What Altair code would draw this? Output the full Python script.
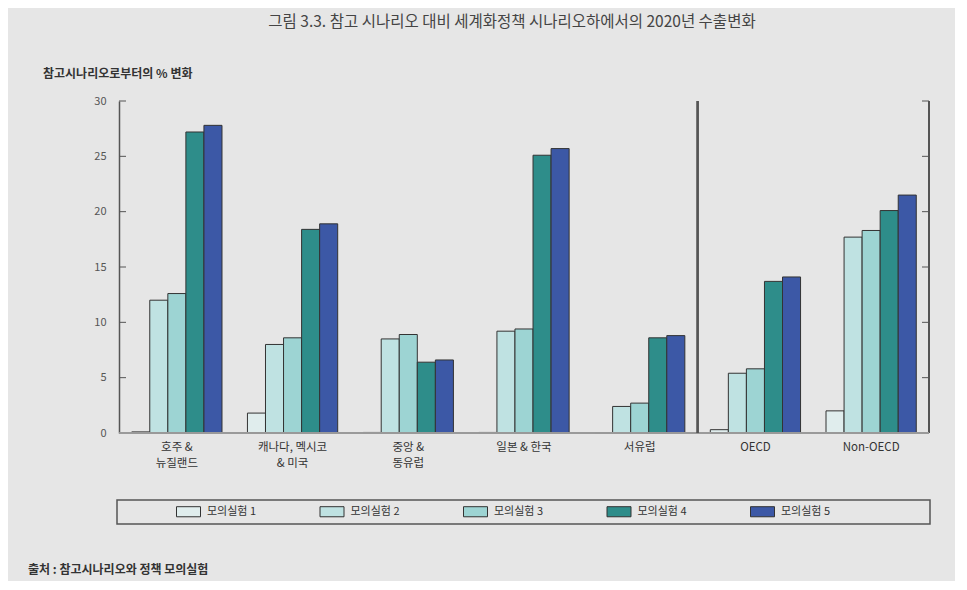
import altair as alt
import pandas as pd

categories = ["호주 &\n뉴질랜드", "캐나다, 멕시코\n& 미국", "중앙 &\n동유럽", "일본 & 한국", "서유럽", "OECD", "Non-OECD"]
series = ["모의실험 1", "모의실험 2", "모의실험 3", "모의실험 4", "모의실험 5"]
sim1 = [0.1, 1.8, 0.05, 0.05, 0.0, 0.3, 2.0]
sim2 = [12.0, 8.0, 8.5, 9.2, 2.4, 5.4, 17.7]
sim3 = [12.6, 8.6, 8.9, 9.4, 2.7, 5.8, 18.3]
sim4 = [27.2, 18.4, 6.4, 25.1, 8.6, 13.7, 20.1]
sim5 = [27.8, 18.9, 6.6, 25.7, 8.8, 14.1, 21.5]
colors = ["#e0eded", "#bfe2e2", "#9dd4d3", "#2e8d8a", "#3c58a6"]
y_ticks = [0, 5, 10, 15, 20, 25, 30]

title_text = "그림 3.3.  참고 시나리오 대비 세계화정책 시나리오하에서의 2020년 수출변화"
y_title_text = "참고시나리오로부터의 % 변화"
source_text = "출처 : 참고시나리오와 정책 모의실험"

rows = []
for s, vals in zip(series, [sim1, sim2, sim3, sim4, sim5]):
    for c, v in zip(categories, vals):
        rows.append({"category": c, "series": s, "value": v})
df = pd.DataFrame(rows)
ticks_df = pd.DataFrame({"tick": y_ticks})
cat_df = pd.DataFrame({
    "category": categories,
    "line1": [c.split("\n")[0] for c in categories],
    "line2": [c.split("\n")[1] if "\n" in c else "" for c in categories],
})

W, H = 810, 332
FONT = "Noto Sans CJK KR"

x_scale = alt.Scale(domain=categories, paddingInner=0.22, paddingOuter=0.11)
y_scale = alt.Scale(domain=[0, 30], nice=False)

bars = alt.Chart(df).mark_bar(stroke="#333333", strokeWidth=1).encode(
    x=alt.X("category:N", sort=categories, scale=x_scale, axis=None),
    xOffset=alt.XOffset("series:N", sort=series, scale=alt.Scale(paddingInner=0, paddingOuter=0)),
    y=alt.Y("value:Q", scale=y_scale,
            axis=alt.Axis(title=None, ticks=False, grid=False, values=y_ticks,
                          domainColor="#555555", domainWidth=1.5, labelColor="#555555",
                          labelFontSize=11, labelFont=FONT, labelPadding=13)),
    color=alt.Color("series:N", sort=series,
                    scale=alt.Scale(domain=series, range=colors),
                    legend=alt.Legend(title=None, orient="none", legendX=57, legendY=398,
                                      direction="horizontal", columns=5, columnPadding=60.5,
                                      symbolType="M-1,-0.42H1V0.42H-1Z", symbolSize=576,
                                      symbolStrokeColor="#333333", symbolStrokeWidth=1,
                                      symbolOpacity=1, labelFont=FONT, labelFontSize=11,
                                      labelColor="#333333", labelOffset=6, padding=0)),
)

left_ticks = alt.Chart(ticks_df).mark_rule(color="#555555", strokeWidth=1).encode(
    y=alt.Y("tick:Q", scale=y_scale), x=alt.value(0), x2=alt.value(7))
right_ticks = alt.Chart(ticks_df).mark_rule(color="#555555", strokeWidth=1).encode(
    y=alt.Y("tick:Q", scale=y_scale), x=alt.value(W - 7), x2=alt.value(W))
right_axis = alt.Chart(ticks_df).mark_rule(color="#555555", strokeWidth=1.5).encode(
    x=alt.value(W), y=alt.value(0), y2=alt.value(H))
bottom_line = alt.Chart(ticks_df).mark_rule(color="#9a9a9a", strokeWidth=1.5).encode(
    x=alt.value(0), x2=alt.value(W), y=alt.value(H))
divider = alt.Chart(ticks_df).mark_rule(color="#555555", strokeWidth=1.5).encode(
    x=alt.value(W * 5 / 7), y=alt.value(0), y2=alt.value(H))

cat_line1 = alt.Chart(cat_df).mark_text(
    font=FONT, fontSize=11.5, color="#333333", baseline="middle"
).encode(x=alt.X("category:N", sort=categories, scale=x_scale, axis=None),
         y=alt.value(H + 15), text="line1:N")
cat_line2 = alt.Chart(cat_df).mark_text(
    font=FONT, fontSize=11.5, color="#333333", baseline="middle"
).encode(x=alt.X("category:N", sort=categories, scale=x_scale, axis=None),
         y=alt.value(H + 31), text="line2:N")

one = pd.DataFrame({"a": [0]})
title = alt.Chart(one).mark_text(font=FONT, fontSize=15.5, color="#444444", align="center").encode(
    x=alt.value(393), y=alt.value(-79), text=alt.value(title_text))
y_title = alt.Chart(one).mark_text(font=FONT, fontSize=12, fontWeight="bold", color="#333333", align="left").encode(
    x=alt.value(-76), y=alt.value(-27), text=alt.value(y_title_text))
source = alt.Chart(one).mark_text(font=FONT, fontSize=12, fontWeight="bold", color="#333333", align="left").encode(
    x=alt.value(-91), y=alt.value(469), text=alt.value(source_text))
legend_box = alt.Chart(one).mark_rect(fill=None, stroke="#555555", strokeWidth=1.5).encode(
    x=alt.value(-2), x2=alt.value(811), y=alt.value(399), y2=alt.value(423))

chart = alt.layer(
    legend_box, bars, left_ticks, right_ticks, right_axis, bottom_line, divider,
    cat_line1, cat_line2, title, y_title, source
).properties(
    width=W, height=H,
    autosize=alt.AutoSizeParams(type="none"),
    padding={"left": 111, "top": 93, "right": 26, "bottom": 148},
    background="#e6e6e6",
).configure_view(stroke=None)

chart.save("out.html", embed_options={"renderer": "svg", "actions": False})
